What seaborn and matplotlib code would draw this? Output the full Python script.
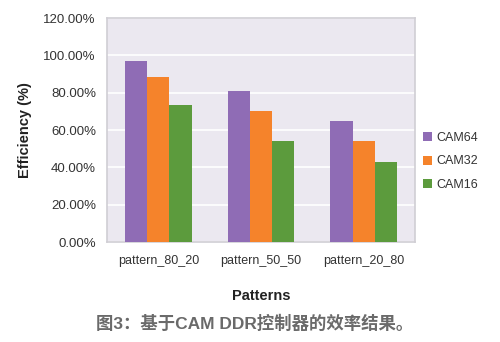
import matplotlib
matplotlib.use("Agg")
import matplotlib.pyplot as plt
import seaborn as sns
import pandas as pd
from matplotlib.ticker import FuncFormatter

patterns = ["pattern_80_20", "pattern_50_50", "pattern_20_80"]
series = ["CAM64", "CAM32", "CAM16"]
cam64 = [97.3, 81.0, 65.0]
cam32 = [88.6, 70.0, 54.0]
cam16 = [73.5, 54.0, 43.0]
yticks = [0, 20, 40, 60, 80, 100, 120]

df = pd.DataFrame({
    "Patterns": patterns * 3,
    "Series": [s for s in series for _ in patterns],
    "Efficiency": cam64 + cam32 + cam16,
})

sns.set_theme(style="white")
plt.rcParams["font.family"] = ["Liberation Sans", "Noto Sans CJK SC", "DejaVu Sans"]

palette = ["#8f6cb5", "#f5832b", "#5c9b3d"]

fig = plt.figure(figsize=(5.0, 3.42), dpi=100)
ax = fig.add_axes([0.214, 0.292, 0.616, 0.655])
ax.set_facecolor("#ebe8f0")

sns.barplot(data=df, x="Patterns", y="Efficiency", hue="Series",
            palette=palette, width=0.65, saturation=1, linewidth=0,
            ax=ax, zorder=3)

ax.set_ylim(0, 120)
ax.set_xlim(-0.5, 2.5)
ax.set_yticks(yticks)
ax.yaxis.set_major_formatter(FuncFormatter(lambda v, p: f"{v:.2f}%"))
ax.grid(axis="y", color="white", linewidth=1.2, zorder=0)
ax.set_axisbelow(True)
for s in ax.spines.values():
    s.set_color("#d0ced4")
    s.set_linewidth(1.2)
ax.tick_params(axis="y", length=0, labelsize=9.5, colors="#333333", pad=8)
ax.tick_params(axis="x", length=0, labelsize=9, colors="#333333", pad=9)

ax.set_ylabel("Efficiency (%)", fontsize=10.5, fontweight="bold", color="#222222", labelpad=8)
ax.set_xlabel("Patterns", fontsize=10.5, fontweight="bold", color="#222222", labelpad=16)

leg = ax.legend(loc="center left", bbox_to_anchor=(1.01, 0.36), frameon=False,
                fontsize=9, handlelength=0.75, handleheight=0.75, handletextpad=0.3,
                labelspacing=0.9, borderaxespad=0)
for t in leg.get_texts():
    t.set_color("#333333")

fig.text(0.51, 0.055, "图3：基于CAM DDR控制器的效率结果。", ha="center", va="center",
         fontsize=12.5, fontweight="bold", color="#6a6a6a",
         family=["Liberation Sans", "Noto Sans CJK SC", "DejaVu Sans"])

fig.savefig("out.png", dpi=100, facecolor="white")
